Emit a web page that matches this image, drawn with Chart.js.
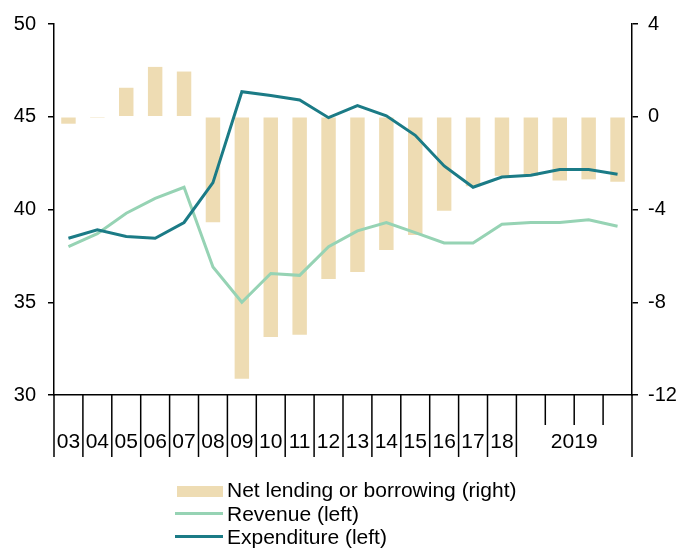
<!DOCTYPE html>
<html>
<head>
<meta charset="utf-8">
<script src="https://cdn.jsdelivr.net/npm/chart.js@4/dist/chart.umd.min.js"></script>
<style>
  body { margin: 0; background: #fff; }
  #wrap { position: relative; width: 682px; height: 549px; font-family: "Liberation Sans", Arial, sans-serif; }
  #legend div { position: absolute; }
  #legend .txt { font-size: 21px; line-height: 24px; color: #000; white-space: nowrap; }
</style>
</head>
<body>
<div id="wrap">
  <canvas id="chart" width="682" height="549"></canvas>
  <div id="legend"></div>
</div>
<script>
// x categories: annual years, then the quarters of 2019
var years = ['03', '04', '05', '06', '07', '08', '09', '10', '11', '12', '13', '14', '15', '16', '17', '18'];
var quarters = ['Q1', 'Q2', 'Q3', 'Q4'];
var quarterYear = '2019';

// % of GDP
var netLending = [-0.3, -0.05, 1.25, 2.15, 1.95, -4.55, -11.3, -9.5, -9.4, -7.0, -6.7, -5.75, -5.1, -4.05, -3.0, -2.55, -2.55, -2.75, -2.7, -2.8];
var revenue = [38.0, 38.7, 39.8, 40.6, 41.2, 36.9, 35.0, 36.55, 36.45, 38.0, 38.85, 39.3, 38.75, 38.2, 38.2, 39.2, 39.3, 39.3, 39.45, 39.1];
var expenditure = [38.45, 38.9, 38.55, 38.45, 39.3, 41.45, 46.35, 46.15, 45.9, 44.95, 45.6, 45.05, 44.0, 42.35, 41.2, 41.75, 41.85, 42.15, 42.15, 41.9];

var labels = years.concat(quarters);

var barColor = '#EEDCB3';
var revColor = '#96D3B4';
var expColor = '#1B7B86';

Chart.defaults.font.family = '"Liberation Sans", Arial, sans-serif';
Chart.defaults.font.size = 20;
Chart.defaults.color = '#000';

var xFontSize = 21;
var xPad = 35;

// separators under the x axis + the "2019" label
var xSeparators = {
    id: 'xSeparators',
    afterDraw: function (chart) {
        var x = chart.scales.x;
        var ctx = chart.ctx;
        var n = labels.length;
        var half = (x.getPixelForValue(1) - x.getPixelForValue(0)) / 2;
        var top = chart.chartArea.bottom;
        ctx.save();
        ctx.strokeStyle = '#000';
        ctx.lineWidth = 1.5;
        for (var b = 0; b <= n; b++) {
            var px = b < n ? x.getPixelForValue(b) - half : x.getPixelForValue(n - 1) + half;
            var long = b <= years.length || b === n;
            ctx.beginPath();
            ctx.moveTo(px, top);
            ctx.lineTo(px, long ? top + 62 : top + 30);
            ctx.stroke();
        }
        var cx = (x.getPixelForValue(years.length) + x.getPixelForValue(n - 1)) / 2;
        ctx.fillStyle = '#000';
        ctx.font = xFontSize + 'px "Liberation Sans", Arial, sans-serif';
        ctx.textAlign = 'center';
        ctx.textBaseline = 'middle';
        ctx.fillText(quarterYear, cx, top + xPad + xFontSize * 0.6);
        ctx.restore();
    }
};

var chart = new Chart(document.getElementById('chart'), {
    type: 'bar',
    data: {
        labels: labels,
        datasets: [{
                type: 'line',
                label: 'Expenditure (left)',
                data: expenditure,
                yAxisID: 'y',
                borderColor: expColor,
                backgroundColor: expColor,
                borderWidth: 3,
                pointRadius: 0,
                tension: 0,
                order: 1
            },
            {
                type: 'line',
                label: 'Revenue (left)',
                data: revenue,
                yAxisID: 'y',
                borderColor: revColor,
                backgroundColor: revColor,
                borderWidth: 3,
                pointRadius: 0,
                tension: 0,
                order: 2
            },
            {
                type: 'bar',
                label: 'Net lending or borrowing (right)',
                data: netLending,
                yAxisID: 'y1',
                backgroundColor: barColor,
                barPercentage: 0.5,
                categoryPercentage: 1.0,
                order: 3
            }]
    },
    options: {
        responsive: false,
        animation: false,
        layout: { padding: { top: 22, bottom: 79, left: 0, right: 0 } },
        plugins: {
            legend: { display: false },
            tooltip: { enabled: false }
        },
        scales: {
            x: {
                grid: { display: false, drawTicks: false },
                border: { display: true, color: '#000', width: 1.5 },
                ticks: {
                    padding: xPad,
                    font: { size: xFontSize },
                    maxRotation: 0,
                    autoSkip: false,
                    callback: function (v, i) { return i < years.length ? labels[i] : ''; }
                },
                afterFit: function (s) { s.height = 75; }
            },
            y: {
                position: 'left',
                min: 30,
                max: 50,
                ticks: { stepSize: 5, padding: 12 },
                grid: { drawOnChartArea: false, drawTicks: true, tickLength: 6, color: '#000', lineWidth: 1.5 },
                border: { display: true, color: '#000', width: 1.5 },
                afterFit: function (s) { s.width = 54; }
            },
            y1: {
                position: 'right',
                min: -12,
                max: 4,
                ticks: { stepSize: 4, padding: 10 },
                grid: { drawOnChartArea: false, drawTicks: true, tickLength: 6, color: '#000', lineWidth: 1.5 },
                border: { display: true, color: '#000', width: 1.5 },
                afterFit: function (s) { s.width = 50; }
            }
        }
    },
    plugins: [xSeparators]
});

// legend, stacked vertically under the chart
var legendRows = [
    { text: chart.data.datasets[2].label, color: barColor, box: true, top: 478 },
    { text: chart.data.datasets[1].label, color: revColor, box: false, top: 501.5 },
    { text: chart.data.datasets[0].label, color: expColor, box: false, top: 525 }
];
var legend = document.getElementById('legend');
legendRows.forEach(function (r) {
    var sw = document.createElement('div');
    if (r.box) {
        sw.style.cssText = 'left:177px;top:' + (r.top + 8) + 'px;width:46px;height:11px;background:' + r.color;
    } else {
        sw.style.cssText = 'left:175px;top:' + (r.top + 10) + 'px;width:48px;height:3px;background:' + r.color;
    }
    legend.appendChild(sw);
    var t = document.createElement('div');
    t.className = 'txt';
    t.style.left = '227px';
    t.style.top = r.top + 'px';
    t.textContent = r.text;
    legend.appendChild(t);
});
</script>
</body>
</html>
